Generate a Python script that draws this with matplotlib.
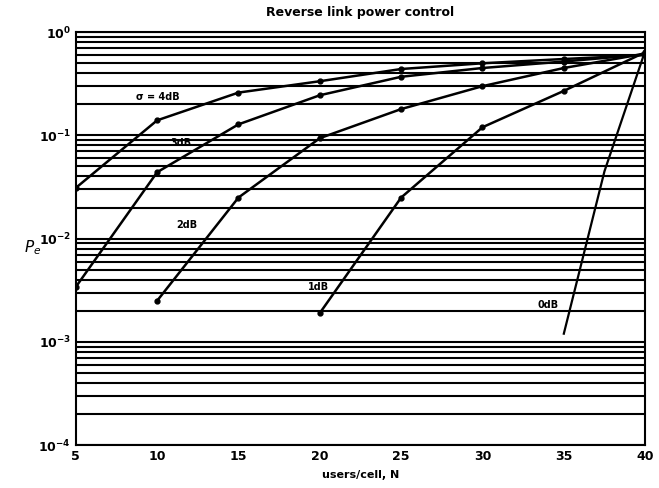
import matplotlib
matplotlib.use("Agg")
import matplotlib.pyplot as plt
from matplotlib.ticker import LogLocator, NullFormatter

# outage probability vs users per cell, reverse link power control
users = [5, 10, 15, 20, 25, 30, 35, 40]

n_4db = [5, 10, 15, 20, 25, 30, 35, 40]
pe_4db = [0.031, 0.14, 0.26, 0.335, 0.44, 0.50, 0.55, 0.60]

n_3db = [5, 10, 15, 20, 25, 30, 35, 40]
pe_3db = [0.0034, 0.044, 0.128, 0.245, 0.37, 0.45, 0.52, 0.61]

n_2db = [10, 15, 20, 25, 30, 35, 40]
pe_2db = [0.0025, 0.025, 0.094, 0.18, 0.30, 0.45, 0.62]

n_1db = [20, 25, 30, 35, 40]
pe_1db = [0.0019, 0.025, 0.12, 0.27, 0.64]

n_0db = [35, 37.5, 40]
pe_0db = [0.0012, 0.045, 0.66]

curve_labels = ["\u03c3 = 4dB", "3dB", "2dB", "1dB", "0dB"]
label_pos = [(8.7, 0.234), (10.8, 0.084), (11.2, 0.0135), (19.3, 0.0034), (33.4, 0.0023)]

fig = plt.figure(figsize=(6.59, 4.88), dpi=100)
ax = fig.add_axes([0.115, 0.088, 0.864, 0.846])

series = [(n_4db, pe_4db), (n_3db, pe_3db), (n_2db, pe_2db), (n_1db, pe_1db)]
for n, pe in series:
    ax.plot(n, pe, color="black", lw=1.8, marker="o", ms=3.5)
ax.plot(n_0db, pe_0db, color="black", lw=1.6)

for text, (x, y) in zip(curve_labels, label_pos):
    ax.text(x, y, text, fontsize=7, fontweight="bold", ha="left", va="center")

ax.set_yscale("log")
ax.set_xlim(5, 40)
ax.set_ylim(1e-4, 1)
ax.set_xticks(users)
ax.yaxis.set_major_locator(LogLocator(base=10, numticks=10))
ax.yaxis.set_minor_locator(LogLocator(base=10, subs=range(2, 10), numticks=50))
ax.yaxis.set_minor_formatter(NullFormatter())

ax.grid(True, which="both", axis="y", color="black", lw=1.5)
ax.grid(False, axis="x")
ax.tick_params(which="both", direction="in", length=0, labelsize=9)
for lbl in ax.get_xticklabels() + ax.get_yticklabels():
    lbl.set_fontweight("bold")
for sp in ax.spines.values():
    sp.set_linewidth(1.5)

ax.set_title("Reverse link power control", fontsize=9, fontweight="bold", pad=12)
ax.set_xlabel("users/cell, N", fontsize=8, fontweight="bold", labelpad=5)
ax.set_ylabel("$P_e$", fontsize=11, fontweight="bold", rotation=0)
ax.yaxis.set_label_coords(-0.075, 0.455)

fig.savefig("out.png", dpi=100)
